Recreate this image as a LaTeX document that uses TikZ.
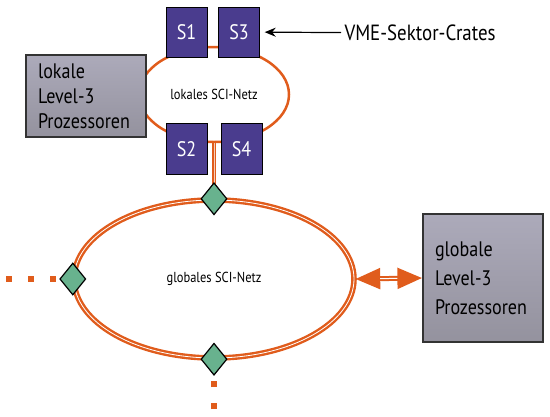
\documentclass[tikz,border=0pt]{standalone}
\usepackage{fontspec}
\setmainfont[FakeStretch=0.86]{PT Sans}
\usepackage{tikz}
\usetikzlibrary{arrows.meta}
\usetikzlibrary{shapes.geometric}
\definecolor{sciorange}{RGB}{224,92,28}
\definecolor{cratepurple}{RGB}{74,60,142}
\definecolor{portgreen}{RGB}{104,178,142}
\definecolor{procgray}{RGB}{172,170,186}
\definecolor{proclight}{RGB}{216,212,236}
\definecolor{procdark}{RGB}{148,146,158}

\begin{document}
\begin{tikzpicture}[x=1pt,y=-1pt,>={Stealth[length=11pt,width=9pt]}]
		\tikzstyle{lring}=[ellipse,draw=sciorange,line width=2.5pt,inner sep=0pt,
			minimum width=150pt,minimum height=95pt,font=\fontsize{14.5}{16}\selectfont];
		\tikzstyle{gring}=[ellipse,draw=sciorange,double=white,double distance=0.8pt,
			line width=2.4pt,inner sep=0pt,minimum width=280pt,minimum height=158pt,
			font=\fontsize{14.5}{16}\selectfont];
		\tikzstyle{gline}=[draw=sciorange,double=white!70!sciorange,double distance=0.6pt,line width=2pt];
		\tikzstyle{dots}=[draw=sciorange,line width=6pt,dash pattern=on 6pt off 16pt];
		\tikzstyle{crate}=[rectangle,draw=black,fill=cratepurple,text=white,
			minimum width=41pt,minimum height=50pt,font=\fontsize{21}{23}\selectfont];
		\tikzstyle{proc}=[rectangle,draw=black!80,line width=1.2pt,
			top color=procgray,middle color=proclight,bottom color=procdark,
			minimum width=120pt,text width=96pt,inner xsep=12pt,align=left];
		\tikzstyle{port}=[diamond,draw=black,line width=1.2pt,fill=portgreen,
			inner sep=0pt,minimum width=26pt,minimum height=32pt];
		\useasboundingbox (0,0) rectangle (550,416);

		\node[lring](lnet) at (214,94.5){lokales SCI-Netz};
		\node[gring](gnet) at (214,279){globales SCI-Netz};
		\draw[gline](lnet.south)--(gnet.north);
		\coordinate(lend) at (6,279);
		\coordinate(bend) at (214,409);
		\draw[dots](lend)--(gnet.west);
		\draw[dots](bend)--(gnet.south);

		\node[crate](s1) at (186.5,32){S1};
		\node[crate,node distance=52.5pt,right of=s1](s3){S3};
		\node[crate,minimum height=51pt](s2) at (186.5,149){S2};
		\node[crate,minimum height=51pt,node distance=55pt,right of=s2](s4){S4};

		\node[proc,minimum height=82pt,font=\fontsize{21}{25}\selectfont](lproc) at (86,96)
			{lokale\\Level-3\\Prozessoren};
		\node[proc,minimum height=128pt,font=\fontsize{21}{29}\selectfont](gproc) at (483,278)
			{globale\\Level-3\\Prozessoren};

		\node[port](d1) at (gnet.north){};
		\node[port](d2) at (gnet.west){};
		\node[port](d3) at (gnet.south){};

		\draw[sciorange,line width=5pt,{Triangle[length=25pt,width=20pt]}-{Triangle[length=25pt,width=20pt]}]
			(gnet.east)--(gproc.west);
		\draw[white,line width=1pt,shorten <=25pt,shorten >=25pt](gnet.east)--(gproc.west);

		\node[anchor=west,font=\fontsize{22}{24}\selectfont](vme) at (341,33){VME-Sektor-Crates};
		\draw[->,line width=1.2pt,shorten >=5pt](vme)--(s3);
	\end{tikzpicture}
\end{document}
